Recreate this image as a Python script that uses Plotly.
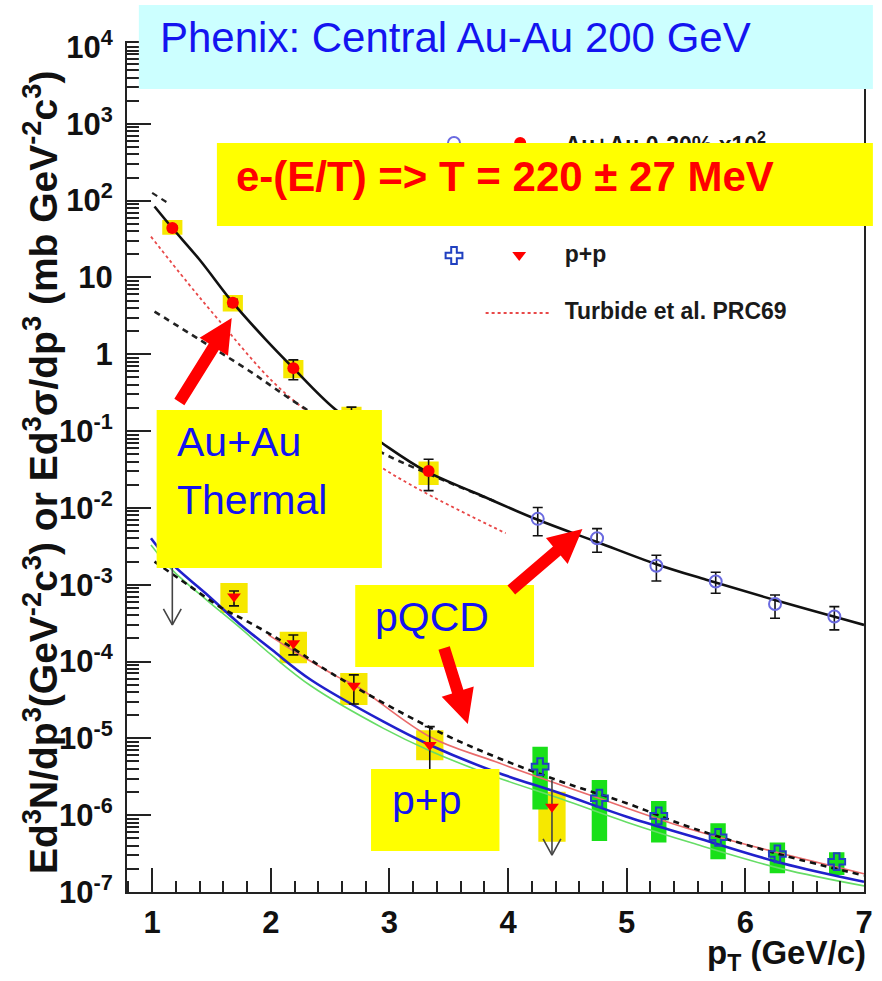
import plotly.graph_objects as go

# ---------------- data ----------------
# Au+Au 0-20% (x10^2) direct photons, filled red circles
aa_pt = [1.17, 1.68, 2.19, 2.68, 3.33]
aa_val = [44.0, 4.7, 0.66, 0.14, 0.0303]
aa_err_up = [3.0, 0.5, 0.185, 0.065, 0.0127]
aa_err_dn = [3.0, 0.5, 0.195, 0.04, 0.0135]
aa_sys_hi = [56.0, 5.9, 0.845, 0.208, 0.0401]
aa_sys_lo = [36.0, 3.6, 0.489, 0.095, 0.0199]

# Au+Au 0-20% (x10^2), open blue circles
aa2_pt = [4.25, 4.75, 5.25, 5.75, 6.25, 6.75]
aa2_val = [0.0072, 0.00403, 0.00177, 0.0011, 0.00056, 0.000385]
aa2_err_up = [0.0029, 0.00134, 0.00065, 0.000356, 0.000176, 0.000134]
aa2_err_dn = [0.00285, 0.00138, 0.00065, 0.000326, 0.000194, 0.000127]

# p+p, red down triangles
pp_pt = [1.69, 2.19, 2.70, 3.34]
pp_val = [7.0e-4, 1.73e-4, 4.85e-5, 8.2e-6]
pp_err_up = [1.3e-4, 4.9e-5, 1.85e-5, 6.0e-6]
pp_err_dn = [1.7e-4, 5.1e-5, 2.05e-5, 5.7e-6]
pp_sys_hi = [1.05e-3, 2.45e-4, 7.1e-5, 1.28e-5]
pp_sys_lo = [4.3e-4, 9.5e-5, 2.72e-5, 5.2e-6]

# p+p, red triangle drawn at an upper limit
ppul_pt = [4.37]
ppul_val = [1.29e-6]
ppul_sys_hi = [2.02e-6]
ppul_sys_lo = [4.5e-7]

# p+p upper-limit arrows (top of arrow, arrow tip)
ul_pt = [1.17, 4.37]
ul_top = [2.2e-3, 2.87e-6]
ul_tip = [3.0e-4, 3.03e-7]

# p+p, open blue crosses with green systematic boxes
ppc_pt = [4.27, 4.77, 5.27, 5.77, 6.27, 6.77]
ppc_val = [4.28e-6, 1.66e-6, 9.8e-7, 5.15e-7, 3.13e-7, 2.48e-7]
ppc_sys_hi = [7.8e-6, 2.87e-6, 1.53e-6, 7.85e-7, 4.4e-7, 3.29e-7]
ppc_sys_lo = [1.19e-6, 4.6e-7, 4.4e-7, 2.67e-7, 1.75e-7, 1.66e-7]

# Au+Au fit (pQCD + thermal), black solid
fit_pt = [1.02, 1.17, 1.4, 1.68, 1.95, 2.19, 2.53, 2.94, 3.3, 3.73, 4.25, 4.75, 5.25, 5.67, 6.3, 7.0]
fit_val = [84, 44, 17, 4.7, 1.6, 0.66, 0.2, 0.0695, 0.0305, 0.0155, 0.0070, 0.0036, 0.00185, 0.00116, 0.0006, 0.0003]

# Au+Au scaled pQCD, black dashed
aaq_pt = [1.02, 1.4, 1.81, 2.28, 2.94, 3.3, 3.6, 3.9]
aaq_val = [3.6, 1.55, 0.62, 0.2, 0.052, 0.029, 0.0185, 0.012]

# short dashed segment at top left
aaq2_pt = [1.0, 1.12]
aaq2_val = [126, 96]

# Turbide et al. thermal, red dotted
tur_pt = [0.99, 1.3, 1.56, 2.03, 2.5, 2.9, 3.31, 3.98]
tur_val = [34, 8.5, 2.8, 0.42, 0.105, 0.0363, 0.0155, 0.00468]

# p+p pQCD curves
blue_pt = [0.99, 1.17, 1.45, 1.73, 2.01, 2.34, 2.95, 3.34, 3.89, 4.45, 5.0, 5.56, 6.31, 7.0]
blue_val = [4.03e-3, 1.85e-3, 7.74e-4, 3.16e-4, 1.42e-4, 5.75e-5, 1.65e-5, 8.2e-6, 3.68e-6, 1.9e-6, 9.55e-7, 5.25e-7, 2.37e-7, 1.36e-7]
green_pt = [0.99, 1.17, 1.45, 1.73, 2.01, 2.34, 2.95, 3.34, 3.89, 4.45, 5.0, 5.56, 6.31, 7.0]
green_val = [3.3e-3, 1.55e-3, 6.5e-4, 2.84e-4, 1.2e-4, 4.8e-5, 1.35e-5, 6.9e-6, 3.17e-6, 1.62e-6, 8.1e-7, 4.3e-7, 2.0e-7, 1.2e-7]
ppd_pt = [1.02, 1.3, 1.59, 1.78, 2.01, 2.23, 2.51, 3.34, 3.89, 4.45, 5.0, 5.56, 6.31, 7.0]
ppd_val = [2.0e-3, 1.0e-3, 4.94e-4, 3.48e-4, 2.2e-4, 1.35e-4, 7.05e-5, 1.39e-5, 5.78e-6, 2.73e-6, 1.43e-6, 6.75e-7, 3.03e-7, 1.64e-7]
ppr_pt = [1.98, 2.2, 2.56, 2.73, 3.34, 3.89, 4.73, 5.56, 7.0]
ppr_val = [2.22e-4, 1.35e-4, 6.37e-5, 4.7e-5, 1.05e-5, 4.98e-6, 1.74e-6, 6.41e-7, 1.73e-7]

y_tickvals = [1e-7, 1e-6, 1e-5, 1e-4, 1e-3, 1e-2, 1e-1, 1, 10, 1e2, 1e3, 1e4]
y_ticktext = ["10<sup>-7</sup>", "10<sup>-6</sup>", "10<sup>-5</sup>", "10<sup>-4</sup>",
              "10<sup>-3</sup>", "10<sup>-2</sup>", "10<sup>-1</sup>", "1", "10",
              "10<sup>2</sup>", "10<sup>3</sup>", "10<sup>4</sup>"]
x_tickvals = [1, 2, 3, 4, 5, 6, 7]

# ---------------- layout geometry (pixels) ----------------
W, H = 882, 981
L, R, T, B = 127, 873, 43, 892
FONT = "Liberation Sans"


def px(x):
    return (x - L) / (R - L)


def py(y):
    return (B - y) / (B - T)


def box_trace(xs, lo, hi, hw, color):
    bx, by = [], []
    for x, a, b in zip(xs, lo, hi):
        bx += [x - hw, x + hw, x + hw, x - hw, x - hw, None]
        by += [a, a, b, b, a, None]
    return go.Scatter(x=bx, y=by, mode="lines", fill="toself", fillcolor=color,
                      line=dict(width=0, color=color), hoverinfo="skip", showlegend=False)


fig = go.Figure()

# systematic boxes
fig.add_trace(box_trace(aa_pt, aa_sys_lo, aa_sys_hi, 0.085, "#f6e800"))
fig.add_trace(box_trace(pp_pt + ppul_pt, pp_sys_lo + ppul_sys_lo, pp_sys_hi + ppul_sys_hi, 0.115, "#f6e800"))
fig.add_trace(box_trace(ppc_pt, ppc_sys_lo, ppc_sys_hi, 0.065, "#19e019"))

# curves
fig.add_trace(go.Scatter(x=tur_pt, y=tur_val, mode="lines", line=dict(color="#e84848", width=1.8, dash="dot", shape="spline")))
fig.add_trace(go.Scatter(x=green_pt, y=green_val, mode="lines", line=dict(color="#66dd66", width=1.6, shape="spline")))
fig.add_trace(go.Scatter(x=blue_pt, y=blue_val, mode="lines", line=dict(color="#2020cc", width=2.6, shape="spline")))
fig.add_trace(go.Scatter(x=ppr_pt, y=ppr_val, mode="lines", line=dict(color="#ea6b6b", width=1.6, shape="spline")))
fig.add_trace(go.Scatter(x=ppd_pt, y=ppd_val, mode="lines", line=dict(color="#111111", width=2.6, dash="6px,5px", shape="spline")))
fig.add_trace(go.Scatter(x=aaq_pt, y=aaq_val, mode="lines", line=dict(color="#222222", width=2.6, dash="6px,5px", shape="spline")))
fig.add_trace(go.Scatter(x=aaq2_pt, y=aaq2_val, mode="lines", line=dict(color="#222222", width=2.2, dash="6px,5px")))
fig.add_trace(go.Scatter(x=fit_pt, y=fit_val, mode="lines", line=dict(color="#111111", width=2.6, shape="spline")))

# upper-limit arrows
lx, ly, vx, vy = [], [], [], []
for x, top, tip in zip(ul_pt, ul_top, ul_tip):
    lx += [x, x, None]
    ly += [top, tip, None]
    vx += [x - 0.075, x, x + 0.075, None]
    vy += [tip * 1.62, tip, tip * 1.62, None]
fig.add_trace(go.Scatter(x=lx, y=ly, mode="lines", line=dict(color="#444444", width=1.6)))
fig.add_trace(go.Scatter(x=vx, y=vy, mode="lines", line=dict(color="#444444", width=1.6)))

err_style = dict(type="data", symmetric=False, color="#111111", thickness=1.6, width=5)

# data points
fig.add_trace(go.Scatter(x=aa_pt, y=aa_val, mode="markers",
                         marker=dict(symbol="circle", size=12, color="#ff0000"),
                         error_y=dict(array=aa_err_up, arrayminus=aa_err_dn, **err_style)))
fig.add_trace(go.Scatter(x=aa2_pt, y=aa2_val, mode="markers",
                         marker=dict(symbol="circle-open", size=12, color="#6a6ae0", line=dict(width=2, color="#6a6ae0")),
                         error_y=dict(array=aa2_err_up, arrayminus=aa2_err_dn, **err_style)))
fig.add_trace(go.Scatter(x=pp_pt, y=pp_val, mode="markers",
                         marker=dict(symbol="triangle-down", size=12, color="#ff0000"),
                         error_y=dict(array=pp_err_up, arrayminus=pp_err_dn, **err_style)))
fig.add_trace(go.Scatter(x=ppul_pt, y=ppul_val, mode="markers",
                         marker=dict(symbol="triangle-down", size=12, color="#ff0000")))
fig.add_trace(go.Scatter(x=ppc_pt, y=ppc_val, mode="markers",
                         marker=dict(symbol="cross-open", size=14, color="#2040c0", line=dict(width=2, color="#2040c0"))))

# ---------------- legend (overlay axes in plot fraction) ----------------
leg = dict(xaxis="x2", yaxis="y2", hoverinfo="skip")
fig.add_trace(go.Scatter(x=[px(458)], y=[py(143)], mode="markers",
                         marker=dict(symbol="circle-open", size=12, color="#6a6ae0", line=dict(width=2)), **leg))
fig.add_trace(go.Scatter(x=[px(525)], y=[py(143)], mode="markers",
                         marker=dict(symbol="circle", size=12, color="#ff0000"), **leg))
fig.add_trace(go.Scatter(x=[px(458)], y=[py(255.5)], mode="markers",
                         marker=dict(symbol="cross-open", size=14, color="#2040c0", line=dict(width=2)), **leg))
fig.add_trace(go.Scatter(x=[px(524)], y=[py(255)], mode="markers",
                         marker=dict(symbol="triangle-down", size=12, color="#ff0000"), **leg))
fig.add_trace(go.Scatter(x=[px(490), px(555)], y=[py(313), py(313)], mode="lines",
                         line=dict(color="#e84848", width=1.8, dash="dot"), **leg))
leg_font = dict(family=FONT, size=23, color="#1a1a1a", weight="bold")
fig.add_trace(go.Scatter(x=[px(570), px(570), px(570)], y=[py(147), py(256), py(313)], mode="text",
                         text=["Au+Au 0-20% x10<sup>2</sup>", "p+p", "Turbide et al. PRC69"],
                         textposition="middle right", textfont=leg_font, **leg))

# ---------------- shapes: text boxes and arrows ----------------
shapes = []
for (x0, y0, x1, y1, c) in [(139, 5, 882, 89, "#ccffff"),
                            (218, 143, 882, 226, "#ffff00"),
                            (157, 410, 385, 568, "#ffff00"),
                            (358, 585, 539, 667, "#ffff00"),
                            (374, 769, 504, 851, "#ffff00")]:
    shapes.append(dict(type="rect", xref="paper", yref="paper", x0=px(x0), x1=px(x1), y0=py(y1), y1=py(y0),
                       fillcolor=c, line=dict(width=0), layer="above"))


def arrow_path(tx, ty, hx, hy, shaft=12, headw=34, headl=34):
    dx, dy = hx - tx, hy - ty
    n = (dx * dx + dy * dy) ** 0.5
    ux, uy = dx / n, dy / n
    nx, ny = -uy, ux
    bx, by = hx - ux * headl, hy - uy * headl
    pts = [(tx + nx * shaft / 2, ty + ny * shaft / 2),
           (bx + nx * shaft / 2, by + ny * shaft / 2),
           (bx + nx * headw / 2, by + ny * headw / 2),
           (hx, hy),
           (bx - nx * headw / 2, by - ny * headw / 2),
           (bx - nx * shaft / 2, by - ny * shaft / 2),
           (tx - nx * shaft / 2, ty - ny * shaft / 2)]
    return "M " + " L ".join(f"{px(a):.5f},{py(b):.5f}" for a, b in pts) + " Z"


for (tx, ty, hx, hy) in [(180, 402, 233, 318), (516, 590, 588, 529), (448, 648, 472, 724)]:
    shapes.append(dict(type="path", xref="paper", yref="paper", path=arrow_path(tx, ty, hx, hy),
                       fillcolor="#ff0000", line=dict(width=0), layer="above"))

# ---------------- annotations ----------------
ann = []


def text_at(x, y, s, size, color, bold=False, anchor="left"):
    ann.append(dict(text=s, x=px(x), y=py(y), xref="paper", yref="paper", showarrow=False,
                    xanchor=anchor, yanchor="middle",
                    font=dict(family=FONT, size=size, color=color, weight="bold" if bold else "normal")))


text_at(158, 38, "Phenix: Central Au-Au 200 GeV", 42, "#1414f0")
text_at(235, 176, "e-(E/T) => T = 220 ± 27 MeV", 42, "#ff0000", bold=True)
text_at(176, 442, "Au+Au", 41, "#1414f0")
text_at(176, 500, "Thermal", 41, "#1414f0")
text_at(376, 617, "pQCD", 41, "#1414f0")
text_at(393, 800, "p+p", 41, "#1414f0")
text_at(877, 955, "p<sub>T</sub> (GeV/c)", 33, "#111111", bold=True, anchor="right")
ann.append(dict(text="Ed<sup>3</sup>N/dp<sup>3</sup>(GeV<sup>-2</sup>c<sup>3</sup>) or Ed<sup>3</sup>σ/dp<sup>3</sup> (mb GeV<sup>-2</sup>c<sup>3</sup>)",
                x=px(39), y=py(472), xref="paper", yref="paper", showarrow=False, textangle=-90,
                xanchor="center", yanchor="middle",
                font=dict(family=FONT, size=39, color="#111111", weight="bold")))

minor_y = [m * 10 ** e for e in range(-7, 4) for m in range(2, 10)]

fig.update_layout(
    width=W, height=H,
    margin=dict(l=L, r=W - R, t=T, b=H - B),
    paper_bgcolor="white", plot_bgcolor="white",
    showlegend=False,
    shapes=shapes, annotations=ann,
    xaxis=dict(range=[0.788, 7.0], tickvals=x_tickvals, ticks="inside", ticklen=24, tickwidth=2,
               tickcolor="#222", showline=True, linecolor="#222", linewidth=2, mirror=True,
               showgrid=False, zeroline=False,
               tickfont=dict(family=FONT, size=31, color="#111", weight="bold"), ticklabelstandoff=2,
               minor=dict(ticks="inside", ticklen=11, tickwidth=1.6, tickcolor="#222", dtick=0.2, tick0=0.8, showgrid=False)),
    yaxis=dict(type="log", range=[-7, 4.052], tickvals=y_tickvals, ticktext=y_ticktext,
               ticks="inside", ticklen=24, tickwidth=2, tickcolor="#222",
               showline=True, linecolor="#222", linewidth=2, mirror=True, showgrid=False, zeroline=False,
               tickfont=dict(family=FONT, size=31, color="#111", weight="bold"), ticklabelstandoff=6,
               minor=dict(ticks="inside", ticklen=12, tickwidth=1.6, tickcolor="#222", tickvals=minor_y, showgrid=False)),
    xaxis2=dict(overlaying="x", anchor="y2", range=[0, 1], visible=False),
    yaxis2=dict(overlaying="y", anchor="x2", range=[0, 1], visible=False),
)

fig.write_html("out.html", config={"displayModeBar": False},
               post_script="document.body.style.margin='0';document.body.style.padding='0';")
